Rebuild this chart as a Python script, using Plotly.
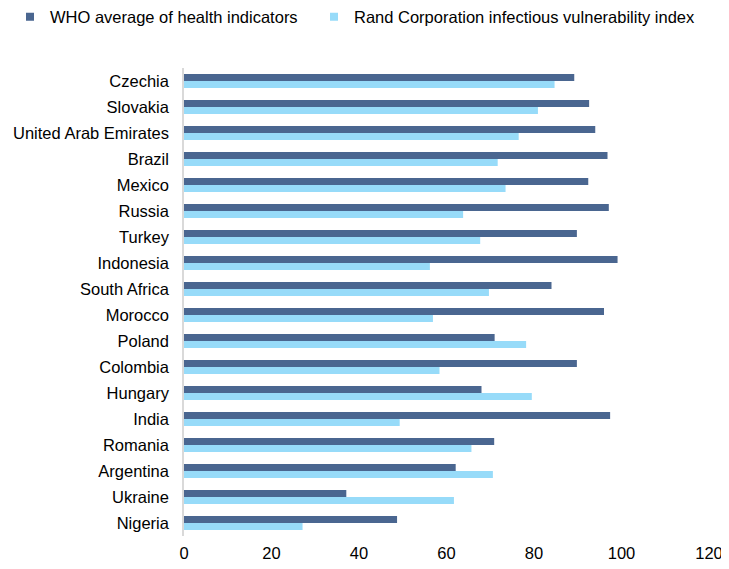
import plotly.graph_objects as go

countries = ["Czechia", "Slovakia", "United Arab Emirates", "Brazil", "Mexico", "Russia",
             "Turkey", "Indonesia", "South Africa", "Morocco", "Poland", "Colombia",
             "Hungary", "India", "Romania", "Argentina", "Ukraine", "Nigeria"]
who_avg = [89.2, 92.6, 94.0, 96.8, 92.4, 97.1, 89.8, 99.1, 84.0, 96.0, 71.0, 89.8,
           68.0, 97.4, 70.9, 62.1, 37.1, 48.7]
rand_index = [84.7, 80.9, 76.5, 71.7, 73.5, 63.8, 67.7, 56.2, 69.7, 56.9, 78.2, 58.4,
              79.5, 49.3, 65.7, 70.6, 61.7, 27.1]
x_ticks = [0, 20, 40, 60, 80, 100, 120]

names = ["WHO average of health indicators",
         "Rand Corporation infectious vulnerability index"]
colors = ["#4A6690", "#97DBF9"]

fig = go.Figure()
fig.add_trace(go.Bar(y=countries, x=who_avg, orientation="h", name=names[0],
                     marker=dict(color=colors[0], line=dict(width=0)), showlegend=False))
fig.add_trace(go.Bar(y=countries, x=rand_index, orientation="h", name=names[1],
                     marker=dict(color=colors[1], line=dict(width=0)), showlegend=False))

# legend entries (small square markers like the reference)
for i, leg in enumerate(["legend", "legend2"]):
    fig.add_trace(go.Scatter(x=[None], y=[None], mode="markers", name=names[i],
                             marker=dict(symbol="square", size=8, color=colors[i]),
                             showlegend=True, legend=leg, hoverinfo="skip"))

W, H = 721, 561
font_family = "Liberation Sans, Arial, sans-serif"
fs = 16.5
leg_common = dict(orientation="h", xref="container", yref="container",
                  xanchor="left", yanchor="middle", font=dict(size=fs, family=font_family),
                  itemwidth=30, bgcolor="rgba(0,0,0,0)", borderwidth=0)

fig.update_layout(
    width=W, height=H,
    margin=dict(l=176, r=20, t=60, b=33, autoexpand=False),
    paper_bgcolor="white", plot_bgcolor="white",
    barmode="group", bargap=0.46, bargroupgap=0,
    font=dict(family=font_family, size=fs, color="#000000"),
    legend=dict(x=2 / W, y=1 - 9 / H, **leg_common),
    legend2=dict(x=306 / W, y=1 - 9 / H, **leg_common),
    showlegend=True,
)
fig.update_xaxes(range=[0, 120], tickvals=x_ticks, showgrid=False, zeroline=False,
                 showline=False, ticks="", tickfont=dict(size=fs), fixedrange=True,
                 automargin=False, ticklabelstandoff=5)
fig.update_yaxes(autorange="reversed", showgrid=False, zeroline=False,
                 showline=True, linecolor="#D9D9D9", linewidth=1.5,
                 ticks="", ticklen=0, tickfont=dict(size=fs), fixedrange=True,
                 automargin=False, ticklabelstandoff=10)

fig.write_html("out.html")
